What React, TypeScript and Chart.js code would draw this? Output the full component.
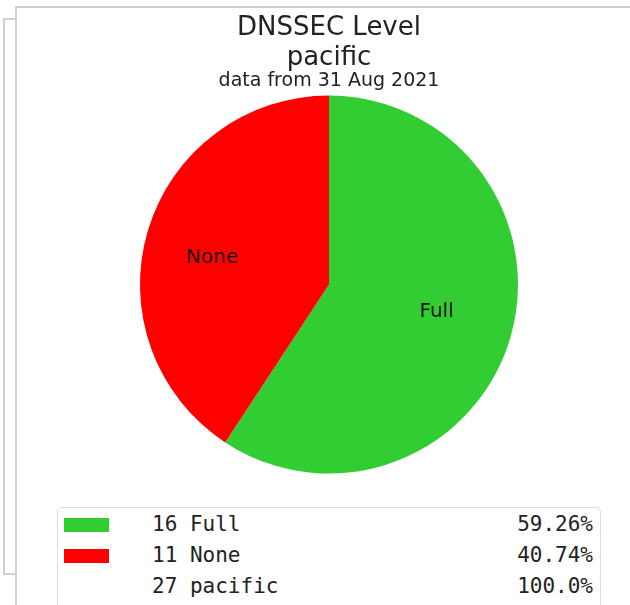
import React, { useEffect, useRef } from "react";
import { Chart, registerables } from "chart.js";

Chart.register(...registerables);

const titleLines = ["DNSSEC Level", "pacific"];
const subtitleText = "data from 31 Aug 2021";
const categories = ["Full", "None"];
const counts = [16, 11];
const colors = ["#32CD32", "#FF0000"];
const totalLabel = "pacific";

const pyStr = (x: number) => (Number.isInteger(x) ? x.toFixed(1) : String(x));
const total = counts.reduce((a, b) => a + b, 0);
const pct = (v: number) => pyStr(Math.round((v / total) * 10000) / 100) + "%";

const sliceLabels = {
  id: "sliceLabels",
  afterDatasetsDraw(chart: any) {
    const ctx = chart.ctx;
    const meta = chart.getDatasetMeta(0);
    ctx.save();
    ctx.font = '20px "DejaVu Sans"';
    ctx.fillStyle = "#111";
    ctx.textBaseline = "middle";
    meta.data.forEach((arc: any, i: number) => {
      const p = arc.getProps(["x", "y", "startAngle", "endAngle", "outerRadius"], true);
      const mid = (p.startAngle + p.endAngle) / 2;
      const r = p.outerRadius * 0.5;
      const cx = p.x + Math.cos(mid) * r;
      const cy = p.y + Math.sin(mid) * r;
      ctx.textAlign = Math.cos(mid) >= 0 ? "left" : "right";
      ctx.fillText(categories[i], cx, cy);
    });
    ctx.restore();
  },
};

const mono = '"DejaVu Sans Mono", monospace';

export default function App() {
  const ref = useRef<HTMLCanvasElement>(null);

  useEffect(() => {
    if (!ref.current) return;
    const chart = new Chart(ref.current, {
      type: "pie",
      data: {
        labels: categories,
        datasets: [
          {
            data: counts,
            backgroundColor: colors,
            borderWidth: 0,
            hoverOffset: 0,
          },
        ],
      },
      options: {
        responsive: false,
        animation: false,
        devicePixelRatio: 1,
        layout: { padding: { left: 28, right: 0, top: 0, bottom: 6.5 } },
        plugins: {
          legend: { display: false },
          tooltip: { enabled: false },
          title: {
            display: true,
            text: titleLines,
            color: "#222",
            font: { family: '"DejaVu Sans"', size: 26, weight: "normal", lineHeight: 1.154 },
            padding: { top: 13.5, bottom: 0 },
          },
          subtitle: {
            display: true,
            text: subtitleText,
            color: "#222",
            font: { family: '"DejaVu Sans"', size: 19, weight: "normal", lineHeight: 0.8 },
            padding: { top: 0, bottom: 6.8 },
          },
        },
      } as any,
      plugins: [sliceLabels],
    });
    return () => chart.destroy();
  }, []);

  const rows = [
    ...categories.map((c, i) => ({ color: colors[i], text: `${counts[i]} ${c}`, p: pct(counts[i]) })),
    { color: null as string | null, text: `${total} ${totalLabel}`, p: "100.0%" },
  ];

  return (
    <div
      style={{
        position: "fixed",
        left: 0,
        top: 0,
        width: 630,
        height: 605,
        overflow: "hidden",
        background: "#fff",
      }}
    >
      {/* back frame */}
      <div
        style={{
          position: "absolute",
          left: 3,
          top: 18,
          width: 20,
          height: 557,
          borderLeft: "2px solid #cfcfcf",
          borderTop: "2px solid #cfcfcf",
          borderBottom: "2px solid #cfcfcf",
          boxSizing: "border-box",
        }}
      />
      {/* front frame */}
      <div
        style={{
          position: "absolute",
          left: 15,
          top: 6,
          width: 640,
          height: 620,
          borderLeft: "2px solid #cfcfcf",
          borderTop: "2px solid #cfcfcf",
          boxSizing: "border-box",
          background: "#fff",
        }}
      />
      <canvas
        ref={ref}
        width={630}
        height={480}
        style={{ position: "absolute", left: 0, top: 0, display: "block" }}
      />
      <div
        style={{
          position: "absolute",
          left: 57,
          top: 507,
          width: 544,
          height: 120,
          border: "1.5px solid #dcdcdc",
          borderRadius: 5,
          boxSizing: "border-box",
        }}
      />
      {rows.map((r, i) => (
        <React.Fragment key={i}>
          {r.color && (
            <div
              style={{
                position: "absolute",
                left: 64,
                top: 518 + i * 31,
                width: 45,
                height: 14,
                background: r.color,
              }}
            />
          )}
          <div
            style={{
              position: "absolute",
              left: 152,
              top: 509 + i * 31,
              height: 31,
              lineHeight: "31px",
              fontFamily: mono,
              fontSize: 21,
              color: "#222",
              whiteSpace: "pre",
            }}
          >
            {r.text}
          </div>
          <div
            style={{
              position: "absolute",
              left: 0,
              width: 593,
              top: 509 + i * 31,
              height: 31,
              lineHeight: "31px",
              fontFamily: mono,
              fontSize: 21,
              color: "#222",
              textAlign: "right",
              whiteSpace: "pre",
            }}
          >
            {r.p}
          </div>
        </React.Fragment>
      ))}
    </div>
  );
}
